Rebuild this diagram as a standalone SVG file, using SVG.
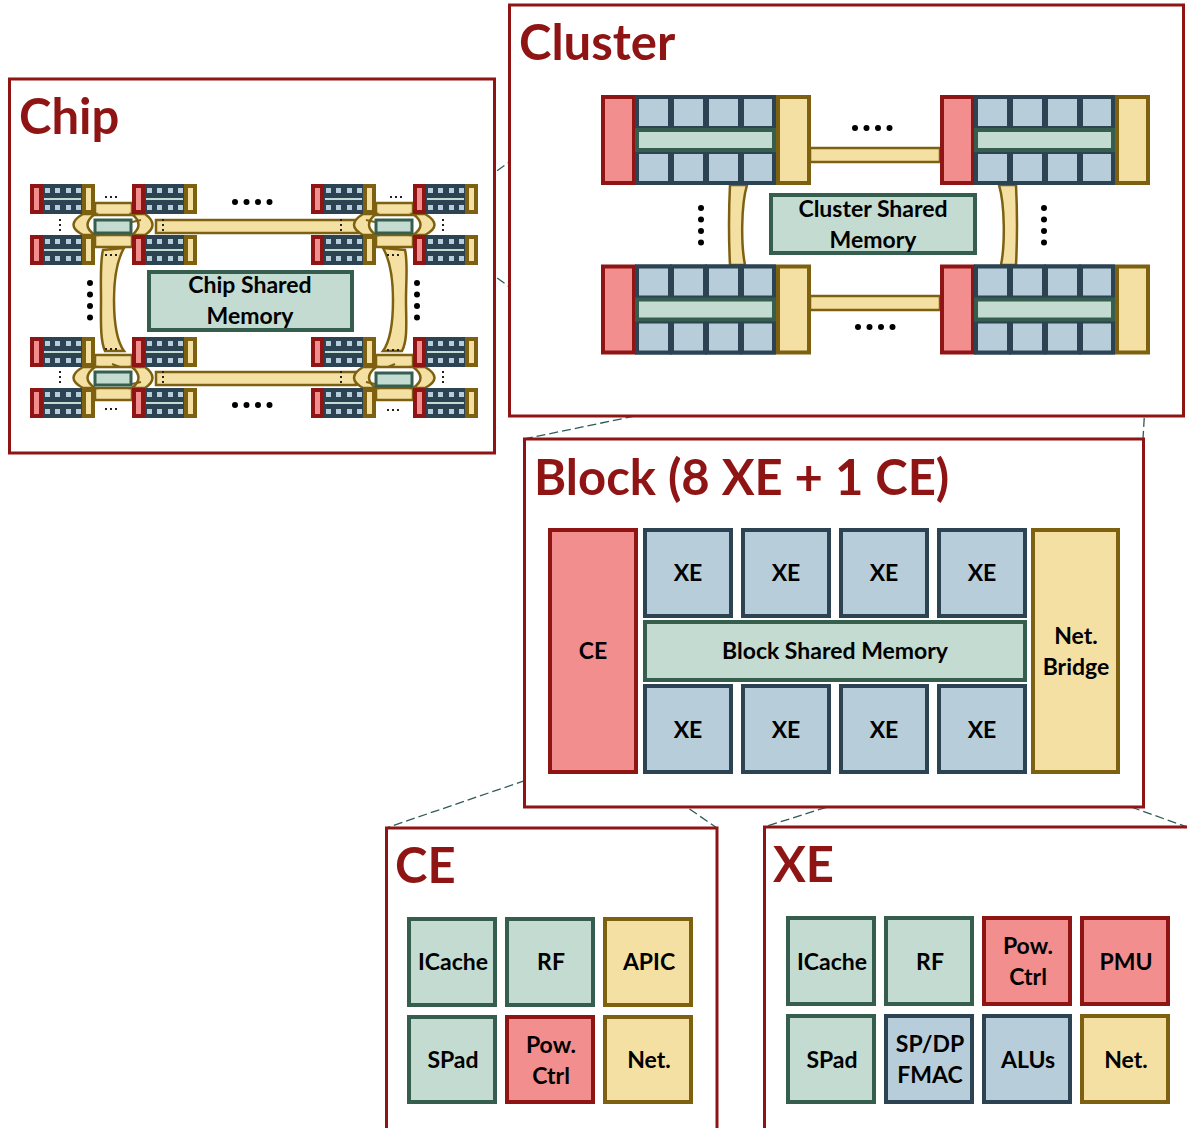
<svg xmlns="http://www.w3.org/2000/svg" xmlns:xlink="http://www.w3.org/1999/xlink" width="1187" height="1128" viewBox="0 0 1187 1128">
<style>
text{font-family:Lato,"Liberation Sans",sans-serif;font-weight:700;fill:#000;text-anchor:middle}
.title{fill:#8f1414;font-size:49px;text-anchor:start}
.lab{font-size:23px}
.frame{fill:#fff;stroke:#8f1414;stroke-width:3}
.red{fill:#f28e8e;stroke:#8f1414;stroke-width:4}
.blue{fill:#b7cdd9;stroke:#2b4352;stroke-width:4}
.green{fill:#c3dbd0;stroke:#365e4e;stroke-width:4}
.yel{fill:#f5e0a4;stroke:#7d6110;stroke-width:4}
.link{fill:#f5e0a4;stroke:#7d6110;stroke-width:2.5}
.lk{fill:none;stroke:#7d6110;stroke-width:2}
.dash{fill:none;stroke:#2e5a5a;stroke-width:1.3;stroke-dasharray:9 4}
.dot{fill:none;stroke:#000;stroke-width:6;stroke-linecap:round;stroke-dasharray:0 11.5}
.mdot{fill:none;stroke:#222;stroke-width:2;stroke-dasharray:2 3}
</style>
<defs>
<g id="cb">
<rect x="635" y="95" width="141" height="90" fill="#2b4352"/>
<rect class="red" x="603" y="97" width="31" height="86"/>
<rect class="blue" x="637" y="97" width="33" height="31"/><rect class="blue" x="672" y="97" width="33" height="31"/><rect class="blue" x="707" y="97" width="33" height="31"/><rect class="blue" x="742" y="97" width="32" height="31"/>
<rect class="blue" x="637" y="152" width="33" height="31"/><rect class="blue" x="672" y="152" width="33" height="31"/><rect class="blue" x="707" y="152" width="33" height="31"/><rect class="blue" x="742" y="152" width="32" height="31"/>
<rect class="green" x="637" y="130" width="137" height="20"/>
<rect class="yel" x="778" y="97" width="31" height="86"/>
</g>
<g id="mb">
<rect x="30" y="184" width="13" height="30" fill="#8f1414"/><rect x="34" y="188" width="5" height="22" fill="#f28e8e"/>
<rect x="43" y="184" width="39" height="30" fill="#2b4352"/>
<g fill="#b7cdd9"><rect x="45" y="188" width="5" height="5"/><rect x="55" y="188" width="5" height="5"/><rect x="66" y="188" width="5" height="5"/><rect x="76" y="188" width="5" height="5"/><rect x="45" y="205" width="5" height="5"/><rect x="55" y="205" width="5" height="5"/><rect x="66" y="205" width="5" height="5"/><rect x="76" y="205" width="5" height="5"/></g>
<rect x="44" y="198" width="37" height="2" fill="#c3dbd0"/>
<rect x="82" y="184" width="13" height="30" fill="#7d6110"/><rect x="86" y="188" width="5" height="22" fill="#f5e0a4"/>
</g>
</defs>

<g id="connectors">
<path class="dash" d="M476 186L601 96M476 263L601 352M940 353L524 439M1148 353L1143 439M550 772L386 828M636 772L717 828M938 772L764 827M1033 772L1187 827"/>
</g>

<g id="chip">
<rect class="frame" x="9.500" y="79" width="485" height="374"/>
<text class="title" x="19" y="134">Chip</text>
<g id="chip-links">
<rect class="link" x="95" y="203" width="37" height="12"/>
<rect class="link" x="95" y="235" width="37" height="12"/>
<rect class="link" x="376" y="203" width="37" height="12"/>
<rect class="link" x="376" y="235" width="37" height="12"/>
<rect class="link" x="95" y="355" width="37" height="12"/>
<rect class="link" x="95" y="388" width="37" height="12"/>
<rect class="link" x="376" y="355" width="37" height="12"/>
<rect class="link" x="376" y="388" width="37" height="12"/>
<rect class="link" x="156" y="220" width="210" height="13"/>
<rect class="link" x="156" y="372" width="200" height="13"/>
<path class="link" d="M83 214Q64 225 83 235L95 235Q80 225 95 214ZM145 214Q160 225 145 235H132Q145 225 132 214Z"/>
<path class="link" d="M83 367Q64 378 83 388L95 388Q80 378 95 367ZM145 367Q160 378 145 388H132Q145 378 132 367Z"/>
<path class="link" d="M363 214Q345 225 363 235H376Q362 225 376 214ZM425 214Q444 225 425 235H413Q428 225 413 214Z"/>
<path class="link" d="M363 367Q345 378 363 388H376Q362 378 376 367ZM425 367Q444 378 425 388H413Q428 378 413 367Z"/>
<path class="link" d="M103 250C100 262 101 280 101 300C101 320 100 340 105 351H124C116 340 114 320 114 300C114 280 116 262 124 248Z"/>
<path class="link" d="M405 250C408 262 406 280 406 300C406 320 408 340 402 351H383C391 340 393 320 393 300C393 280 391 262 383 248Z" transform="translate(0,0)"/>
<path class="lk" d="M132 222L141 220M112 235L120 232M375 222L366 220M395 235L388 232M132 384L141 382M120 367L112 364M375 384L366 382M388 367L395 364"/>
</g>
<use xlink:href="#mb" href="#mb"/><use xlink:href="#mb" href="#mb" x="102"/><use xlink:href="#mb" href="#mb" x="281"/><use xlink:href="#mb" href="#mb" x="383"/>
<use xlink:href="#mb" href="#mb" y="51"/><use xlink:href="#mb" href="#mb" x="102" y="51"/><use xlink:href="#mb" href="#mb" x="281" y="51"/><use xlink:href="#mb" href="#mb" x="383" y="51"/>
<use xlink:href="#mb" href="#mb" y="153"/><use xlink:href="#mb" href="#mb" x="102" y="153"/><use xlink:href="#mb" href="#mb" x="281" y="153"/><use xlink:href="#mb" href="#mb" x="383" y="153"/>
<use xlink:href="#mb" href="#mb" y="204"/><use xlink:href="#mb" href="#mb" x="102" y="204"/><use xlink:href="#mb" href="#mb" x="281" y="204"/><use xlink:href="#mb" href="#mb" x="383" y="204"/>
<rect x="95" y="220" width="36" height="13" fill="#c3dbd0" stroke="#365e4e" stroke-width="3"/>
<rect x="376" y="220" width="36" height="13" fill="#c3dbd0" stroke="#365e4e" stroke-width="3"/>
<rect x="95" y="372" width="36" height="13" fill="#c3dbd0" stroke="#365e4e" stroke-width="3"/>
<rect x="376" y="373" width="36" height="13" fill="#c3dbd0" stroke="#365e4e" stroke-width="3"/>
<path class="mdot" d="M105 197H120M105 255H120M390 197H402M387 255H402M105 349H120M105 409H120M387 350H402M387 410H402M60 219V234M163 219V234M60 371V386M163 371V386M341 219V234M443 219V234M341 371V386M443 371V386"/>
<path class="dot" d="M235 202H275M235 405H275M90 283V322M417 283V322"/>
<rect class="green" x="149" y="272" width="203" height="58"/>
<text class="lab" x="250" y="293">Chip Shared</text>
<text class="lab" x="250" y="324">Memory</text>
</g>

<g id="cluster">
<rect class="frame" x="509.500" y="5" width="674" height="411"/>
<text class="title" x="519" y="60">Cluster</text>
<g id="cluster-links">
<rect class="link" x="810" y="148" width="130" height="14"/>
<rect class="link" x="810" y="296" width="130" height="14"/>
<path class="link" d="M730 185C729 205 729 245 730 265H745C741 245 741 205 747 185Z"/>
<path class="link" d="M1016 185C1017 205 1017 245 1016 265H1001C1005 245 1005 205 999 185Z"/>
</g>
<use xlink:href="#cb" href="#cb"/><use xlink:href="#cb" href="#cb" x="339"/>
<use xlink:href="#cb" href="#cb" y="169.500"/><use xlink:href="#cb" href="#cb" x="339" y="169.500"/>
<path class="dot" d="M855 128H896M858 327H899M701 208V248M1044 208V248"/>
<rect class="green" x="771" y="195" width="204" height="58"/>
<text class="lab" x="873" y="217">Cluster Shared</text>
<text class="lab" x="873" y="248">Memory</text>
</g>

<g id="block">
<rect class="frame" x="524.500" y="439" width="619" height="368"/>
<text class="title" x="534" y="495">Block (8 XE + 1 CE)</text>
<g id="block-ce"><rect class="red" x="550" y="530" width="86" height="242"/><text class="lab" x="593" y="659">CE</text></g>
<g id="block-xe1"><rect class="blue" x="645" y="530" width="86" height="86"/><text class="lab" x="688" y="581">XE</text></g>
<g id="block-xe2"><rect class="blue" x="743" y="530" width="86" height="86"/><text class="lab" x="786" y="581">XE</text></g>
<g id="block-xe3"><rect class="blue" x="841" y="530" width="86" height="86"/><text class="lab" x="884" y="581">XE</text></g>
<g id="block-xe4"><rect class="blue" x="939" y="530" width="86" height="86"/><text class="lab" x="982" y="581">XE</text></g>
<g id="block-mem"><rect class="green" x="645" y="622" width="380" height="58"/><text class="lab" x="835" y="659">Block Shared Memory</text></g>
<g id="block-xe5"><rect class="blue" x="645" y="686" width="86" height="86"/><text class="lab" x="688" y="738">XE</text></g>
<g id="block-xe6"><rect class="blue" x="743" y="686" width="86" height="86"/><text class="lab" x="786" y="738">XE</text></g>
<g id="block-xe7"><rect class="blue" x="841" y="686" width="86" height="86"/><text class="lab" x="884" y="738">XE</text></g>
<g id="block-xe8"><rect class="blue" x="939" y="686" width="86" height="86"/><text class="lab" x="982" y="738">XE</text></g>
<g id="block-net"><rect class="yel" x="1033" y="530" width="85" height="242"/><text class="lab" x="1076" y="644">Net.</text><text class="lab" x="1076" y="675">Bridge</text></g>
</g>

<g id="ce">
<path class="frame" d="M386.500 1128V828H717V1128"/>
<text class="title" x="395" y="883">CE</text>
<g id="ce-icache"><rect class="green" x="409" y="919" width="86" height="86"/><text class="lab" x="453" y="970">ICache</text></g>
<g id="ce-rf"><rect class="green" x="507" y="919" width="86" height="86"/><text class="lab" x="551" y="970">RF</text></g>
<g id="ce-apic"><rect class="yel" x="605" y="919" width="86" height="86"/><text class="lab" x="649" y="970">APIC</text></g>
<g id="ce-spad"><rect class="green" x="409" y="1017" width="86" height="85"/><text class="lab" x="453" y="1068">SPad</text></g>
<g id="ce-pow"><rect class="red" x="507" y="1017" width="86" height="85"/><text class="lab" x="551" y="1053">Pow.</text><text class="lab" x="551" y="1084">Ctrl</text></g>
<g id="ce-net"><rect class="yel" x="605" y="1017" width="86" height="85"/><text class="lab" x="649" y="1068">Net.</text></g>
</g>

<g id="xe">
<path class="frame" d="M764.500 1128V827H1187"/>
<text class="title" x="773" y="882">XE</text>
<g id="xe-icache"><rect class="green" x="788" y="918" width="86" height="86"/><text class="lab" x="832" y="970">ICache</text></g>
<g id="xe-rf"><rect class="green" x="886" y="918" width="86" height="86"/><text class="lab" x="930" y="970">RF</text></g>
<g id="xe-pow"><rect class="red" x="984" y="918" width="86" height="86"/><text class="lab" x="1028" y="954">Pow.</text><text class="lab" x="1028" y="985">Ctrl</text></g>
<g id="xe-pmu"><rect class="red" x="1082" y="918" width="86" height="86"/><text class="lab" x="1126" y="970">PMU</text></g>
<g id="xe-spad"><rect class="green" x="788" y="1016" width="86" height="86"/><text class="lab" x="832" y="1068">SPad</text></g>
<g id="xe-fmac"><rect class="blue" x="886" y="1016" width="86" height="86"/><text class="lab" x="930" y="1052">SP/DP</text><text class="lab" x="930" y="1083">FMAC</text></g>
<g id="xe-alu"><rect class="blue" x="984" y="1016" width="86" height="86"/><text class="lab" x="1028" y="1068">ALUs</text></g>
<g id="xe-net"><rect class="yel" x="1082" y="1016" width="86" height="86"/><text class="lab" x="1126" y="1068">Net.</text></g>
</g>
</svg>
